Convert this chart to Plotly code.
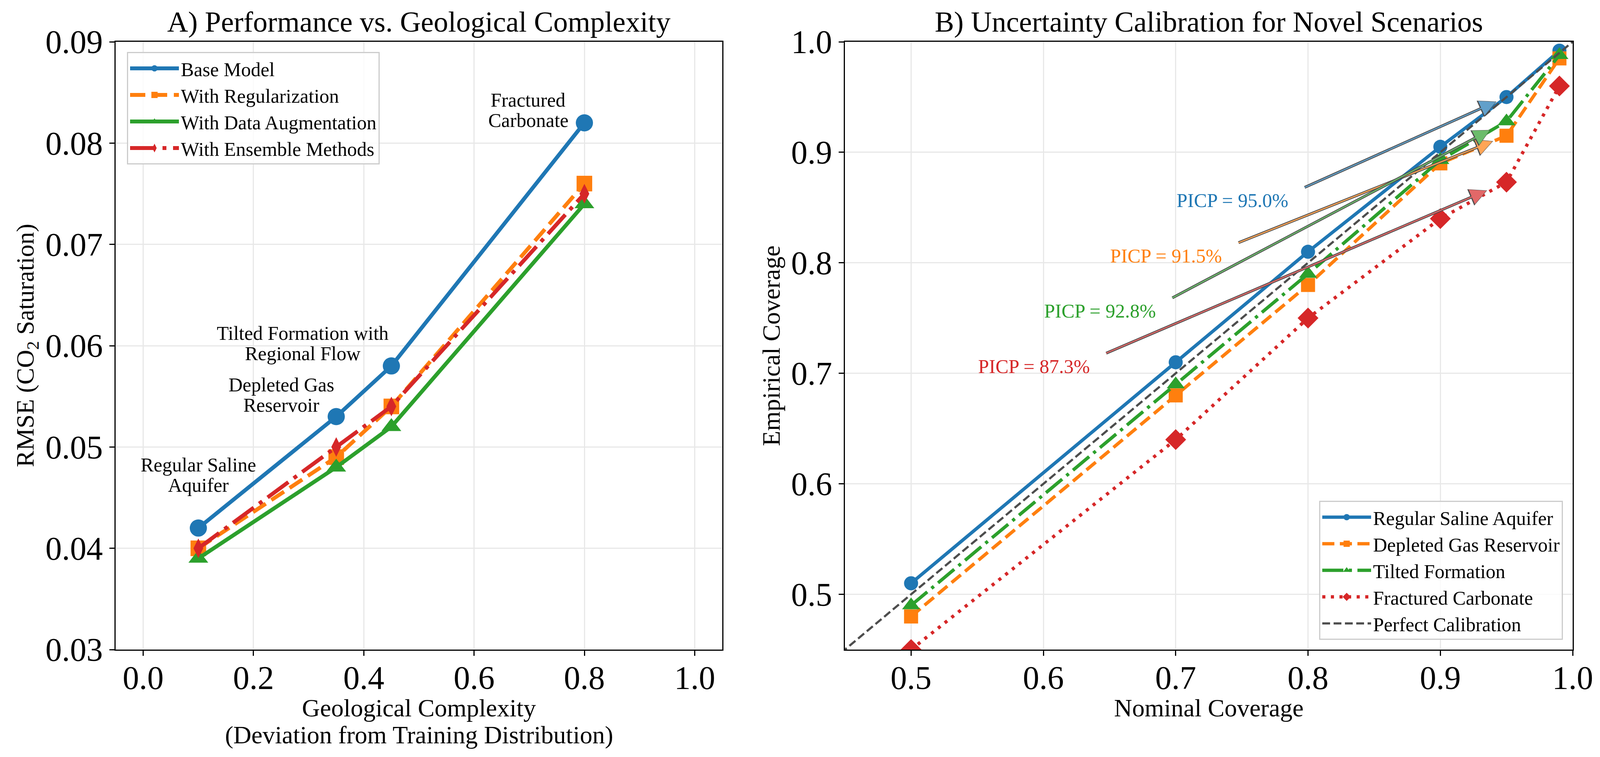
import plotly.graph_objects as go

# Panel A - RMSE against geological complexity
complexity = [0.1, 0.35, 0.45, 0.8]
scenario_labels = [["Regular Saline", "Aquifer"], ["Depleted Gas", "Reservoir"],
                   ["Tilted Formation with", "Regional Flow"], ["Fractured", "Carbonate"]]
rmse_base = [0.042, 0.053, 0.058, 0.082]
rmse_reg = [0.040, 0.049, 0.054, 0.076]
rmse_aug = [0.039, 0.048, 0.052, 0.074]
rmse_ens = [0.040, 0.050, 0.054, 0.075]

# Panel B - empirical vs nominal coverage
nominal = [0.5, 0.7, 0.8, 0.9, 0.95, 0.99]
cov_saline = [0.51, 0.71, 0.81, 0.905, 0.95, 0.992]
cov_gas = [0.48, 0.68, 0.78, 0.89, 0.915, 0.985]
cov_tilted = [0.49, 0.69, 0.79, 0.893, 0.928, 0.988]
cov_carb = [0.45, 0.64, 0.75, 0.84, 0.873, 0.96]
picp = [95.0, 91.5, 92.8, 87.3]
perfect = [0.0, 1.0]

FONT = "Liberation Serif"
BLUE, ORANGE, GREEN, RED = "#1f77b4", "#ff7f0e", "#2ca02c", "#d62728"
LIGHT = {BLUE: "#62a0ca", ORANGE: "#ffa556", GREEN: "#6bbc6b", RED: "#e26868"}

# page body has an 8px margin, so size the figure to fit the window
W, H, OFF = 4082, 1922, 8


def px(x):
    return (x - OFF) / W


def py(y):
    return 1 - (y - OFF) / H


dom_a = [px(296), px(1849)]
dom_b = [px(2163), px(4026)]
dom_y = [py(1663), py(107)]

fig = go.Figure()

# left panel lines
lw = 10
left_series = [
    ("Base Model", rmse_base, BLUE, "solid", "circle", 44),
    ("With Regularization", rmse_reg, ORANGE, "39px,17px", "square", 40),
    ("With Data Augmentation", rmse_aug, GREEN, "solid", "triangle-up", 44),
    ("With Ensemble Methods", rmse_ens, RED, "66px,17px,10px,17px", "diamond-tall", 36),
]
for name, vals, col, dash, sym, ms in left_series:
    fig.add_trace(go.Scatter(x=complexity, y=vals, name=name, mode="lines+markers",
                             line=dict(color=col, width=lw, dash=dash),
                             marker=dict(symbol=sym, size=ms, color=col),
                             xaxis="x", yaxis="y", legend="legend"))

# right panel lines
lw2 = 8.5
right_series = [
    ("Regular Saline Aquifer", cov_saline, BLUE, "solid", "circle", 36),
    ("Depleted Gas Reservoir", cov_gas, ORANGE, "31px,14px", "square", 36),
    ("Tilted Formation", cov_tilted, GREEN, "54px,14px,8px,14px", "triangle-up", 40),
    ("Fractured Carbonate", cov_carb, RED, "8px,14px", "diamond", 41),
]
for name, vals, col, dash, sym, ms in right_series:
    fig.add_trace(go.Scatter(x=nominal, y=vals, name=name, mode="lines+markers",
                             line=dict(color=col, width=lw2, dash=dash),
                             marker=dict(symbol=sym, size=ms, color=col),
                             xaxis="x2", yaxis="y2", legend="legend2"))
fig.add_trace(go.Scatter(x=perfect, y=perfect, name="Perfect Calibration", mode="lines",
                         line=dict(color="#4d4d4d", width=5.5, dash="20px,9px"),
                         xaxis="x2", yaxis="y2", legend="legend2"))

# scenario labels on panel A (one annotation per line for tighter line spacing)
label_shift = [(0, 80), (-140, 0), (-227, 2), (-144, -24)]
line_gap = 52
for i, lines in enumerate(scenario_labels):
    xs, ys = label_shift[i]
    for k, txt in enumerate(lines):
        fig.add_annotation(x=complexity[i], y=rmse_base[i], xref="x", yref="y", text=txt,
                           showarrow=False, xanchor="center", yanchor="bottom",
                           xshift=xs, yshift=ys + (len(lines) - 1 - k) * line_gap,
                           font=dict(family=FONT, size=50, color="black"))

# PICP labels and arrows on panel B
text_x = [0.70, 0.65, 0.60, 0.55]
text_y = [0.85, 0.80, 0.75, 0.70]
tail_dx, tail_dy = 0.097, 0.018      # arrow tail sits just past the end of each label
standoffs = [28, 37, 47, 54]
idx95 = nominal.index(0.95)
for i, (vals, col) in enumerate([(cov_saline, BLUE), (cov_gas, ORANGE),
                                 (cov_tilted, GREEN), (cov_carb, RED)]):
    arrow = dict(x=nominal[idx95], y=vals[idx95], xref="x2", yref="y2",
                 ax=text_x[i] + tail_dx, ay=text_y[i] + tail_dy, axref="x2", ayref="y2",
                 text="", showarrow=True, arrowhead=2)
    fig.add_annotation(**arrow, arrowsize=1.3, arrowwidth=7, arrowcolor="#4d4d4d",
                       standoff=standoffs[i])
    fig.add_annotation(**arrow, arrowsize=2.7, arrowwidth=3, arrowcolor=LIGHT[col],
                       standoff=standoffs[i] + 2)
    fig.add_annotation(x=text_x[i], y=text_y[i], xref="x2", yref="y2",
                       text="PICP = %.1f%%" % picp[i], showarrow=False,
                       xanchor="left", yanchor="bottom", yshift=-12,
                       font=dict(family=FONT, size=50, color=col))

# panel titles
title_y = py(99)
fig.add_annotation(x=sum(dom_a) / 2, y=title_y, xref="paper", yref="paper",
                   text="A) Performance vs. Geological Complexity", showarrow=False,
                   xanchor="center", yanchor="bottom", font=dict(family=FONT, size=74))
fig.add_annotation(x=sum(dom_b) / 2, y=title_y, xref="paper", yref="paper",
                   text="B) Uncertainty Calibration for Novel Scenarios", showarrow=False,
                   xanchor="center", yanchor="bottom", font=dict(family=FONT, size=74))

# axis titles
title_font = dict(family=FONT, size=64, color="black")
axis_titles = [
    (sum(dom_a) / 2, py(1812), 0, "Geological Complexity"),
    (sum(dom_a) / 2, py(1881), 0, "(Deviation from Training Distribution)"),
    (sum(dom_b) / 2, py(1812), 0, "Nominal Coverage"),
    (px(69), sum(dom_y) / 2, -90, "RMSE (CO<sub>2</sub> Saturation)"),
    (px(1974), sum(dom_y) / 2, -90, "Empirical Coverage"),
]
for x, y, ang, txt in axis_titles:
    fig.add_annotation(x=x, y=y, xref="paper", yref="paper", text=txt, showarrow=False,
                       textangle=ang, xanchor="center", yanchor="middle", font=title_font)

axis_style = dict(showgrid=True, gridcolor="#e8e8e8", gridwidth=3, zeroline=False,
                  showline=True, linecolor="black", linewidth=3, mirror=True,
                  ticks="outside", ticklen=13, tickwidth=3, tickcolor="black",
                  automargin=False,
                  tickfont=dict(family=FONT, size=84, color="black"))
x_style = dict(axis_style, ticklabelstandoff=-16)

legend_style = dict(bgcolor="rgba(255,255,255,0.8)", bordercolor="#cccccc", borderwidth=3,
                    font=dict(family=FONT, size=50), itemwidth=125)

fig.update_layout(
    width=W, height=H,
    margin=dict(l=0, r=0, t=0, b=0),
    paper_bgcolor="white", plot_bgcolor="white",
    font=dict(family=FONT, color="black"),
    xaxis=dict(domain=dom_a, range=[-0.05, 1.05], tick0=0, dtick=0.2,
               tickformat=".1f", anchor="y", **x_style),
    yaxis=dict(domain=dom_y, range=[0.03, 0.09], tick0=0.03, dtick=0.01,
               tickformat=".2f", anchor="x", **axis_style),
    xaxis2=dict(domain=dom_b, range=[0.45, 1.0], tick0=0.5, dtick=0.1,
                tickformat=".1f", anchor="y2", **x_style),
    yaxis2=dict(domain=dom_y, range=[0.45, 1.0], tick0=0.5, dtick=0.1,
                tickformat=".1f", anchor="x2", **axis_style),
    legend=dict(x=px(325), y=py(133), xanchor="left", yanchor="top", **legend_style),
    legend2=dict(x=px(4001), y=py(1638), xanchor="right", yanchor="bottom", **legend_style),
)

fig.write_html("out.html")
